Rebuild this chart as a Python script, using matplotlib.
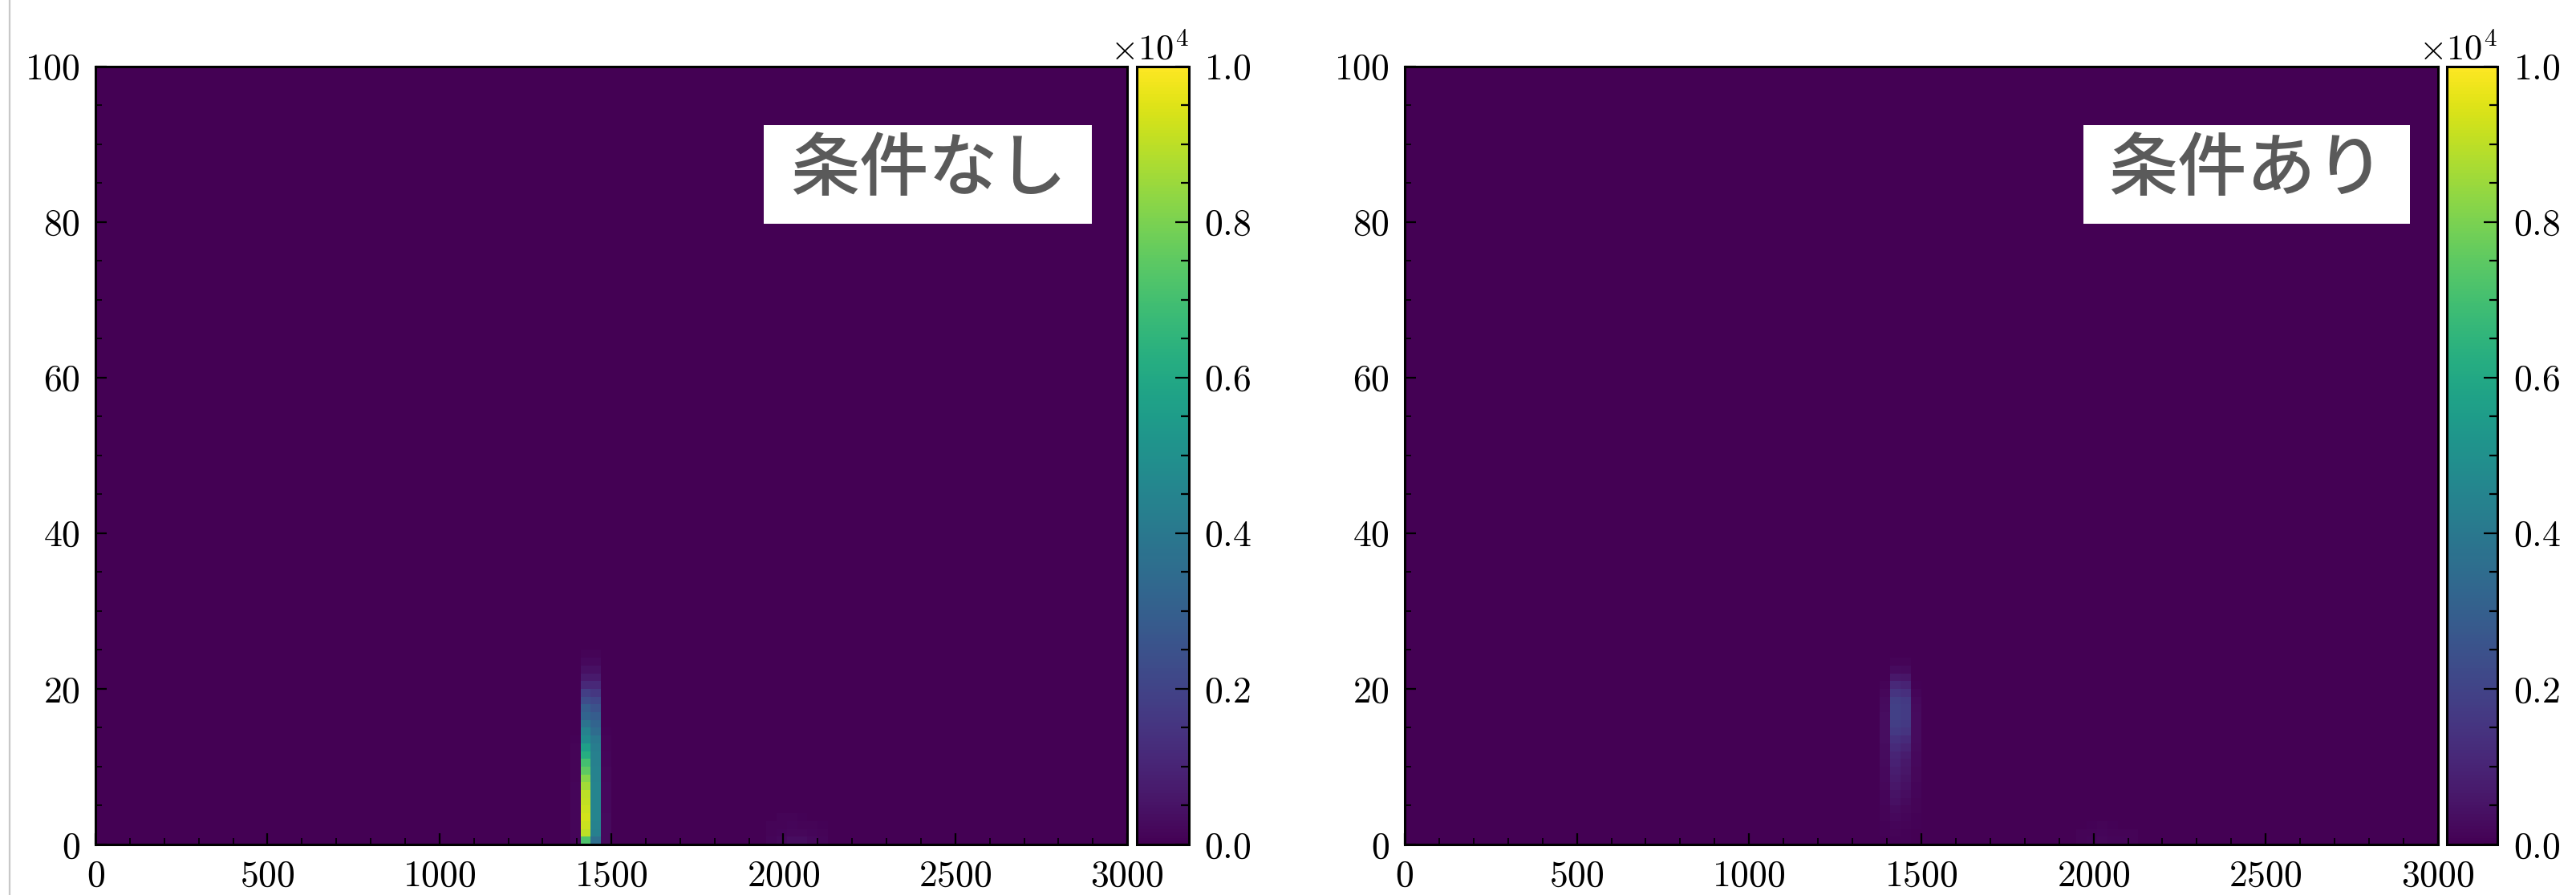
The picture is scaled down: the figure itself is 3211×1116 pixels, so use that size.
import numpy as np
import matplotlib.pyplot as plt
from matplotlib.ticker import AutoMinorLocator, ScalarFormatter
from matplotlib.patches import Rectangle
from matplotlib.lines import Line2D

plt.rcParams['font.family'] = 'serif'
plt.rcParams['font.serif'] = ['cmr10']
plt.rcParams['mathtext.fontset'] = 'cm'
plt.rcParams['axes.formatter.use_mathtext'] = True
plt.rcParams['axes.unicode_minus'] = False

x_range = (0, 3000)
y_range = (0, 100)
n_bins = 100
vmax = 10000

labels = ['条件なし', '条件あり']

# counts per x-bin column, listed from the lowest y bin upward
left_cols = {
    46: [150, 150, 150, 150, 150, 150, 120, 120, 100, 100, 100, 80, 80, 60],
    47: [7200, 9000, 9200, 9300, 9200, 9100, 9000, 8600, 8200, 7500, 7000, 6200,
         5600, 4800, 4400, 3800, 3200, 2900, 2300, 1800, 1100, 700, 400, 200, 100],
    48: [3600, 4300, 4400, 4500, 4500, 4500, 4500, 4500, 4400, 4400, 4300, 4300,
         4200, 4000, 3500, 3200, 2900, 2500, 2100, 1600, 1100, 700, 400, 200, 100],
    49: [250, 250, 250, 240, 230, 220, 200, 200, 180, 160, 150, 130, 110, 90, 70],
    65: [120, 100, 80],
    66: [220, 150, 110, 80],
    67: [330, 180, 120, 80],
    68: [320, 170, 110, 70],
    69: [200, 140, 90],
    70: [130, 100, 70],
}

right_cols = {
    46: [30, 40, 60, 80, 100, 120, 150, 180, 200, 220, 250, 280, 300, 320, 350, 350, 330, 300, 250, 180, 100],
    47: [60, 90, 130, 200, 300, 400, 500, 600, 700, 800, 900, 1000, 1200, 1400,
         1650, 1800, 1900, 1900, 1800, 1500, 1100, 650, 300, 100],
    48: [40, 60, 80, 120, 180, 250, 320, 400, 480, 560, 650, 750, 950, 1200,
         1500, 1650, 1750, 1750, 1650, 1350, 950, 550, 250, 80],
    49: [20, 30, 40, 60, 80, 100, 120, 150, 170, 190, 210, 230, 260, 280, 300, 300, 280, 250, 200, 130, 70],
    65: [100, 80],
    66: [140, 110, 70],
    67: [160, 120, 80],
    68: [150, 110, 70],
    69: [130, 90],
    70: [110, 80],
}

# label boxes in axes fractions: x0, x1, y0, y1
boxes = [(0.648, 0.966, 0.798, 0.925), (0.657, 0.973, 0.798, 0.925)]


def build_hist(cols):
    h = np.zeros((n_bins, n_bins))
    for c, vals in cols.items():
        h[:len(vals), c] = vals
    return h


x_edges = np.linspace(x_range[0], x_range[1], n_bins + 1)
y_edges = np.linspace(y_range[0], y_range[1], n_bins + 1)

fig = plt.figure(figsize=(3211 / 200, 1116 / 200), dpi=200)

ax_pos = [[0.0371, 0.0565, 0.4005, 0.8692], [0.5453, 0.0565, 0.4011, 0.8692]]
cb_pos = [[0.4413, 0.0565, 0.0202, 0.8692], [0.9499, 0.0565, 0.0196, 0.8692]]

for i, cols in enumerate([left_cols, right_cols]):
    ax = fig.add_axes(ax_pos[i])
    cax = fig.add_axes(cb_pos[i])
    H = build_hist(cols)
    mesh = ax.pcolormesh(x_edges, y_edges, H, cmap='viridis', vmin=0, vmax=vmax,
                         shading='flat', rasterized=True)
    ax.set_xlim(x_range)
    ax.set_ylim(y_range)
    ax.set_xticks(np.arange(0, 3001, 500))
    ax.set_yticks(np.arange(0, 101, 20))
    ax.xaxis.set_minor_locator(AutoMinorLocator())
    ax.yaxis.set_minor_locator(AutoMinorLocator())
    ax.tick_params(which='both', direction='in', labelsize=16.5)
    ax.tick_params(which='major', length=5, width=0.8)
    ax.tick_params(which='minor', length=3, width=0.6)
    ax.tick_params(axis='x', pad=7)
    ax.tick_params(axis='y', pad=7)
    for s in ax.spines.values():
        s.set_linewidth(1.1)

    x0, x1, y0, y1 = boxes[i]
    ax.add_patch(Rectangle((x0, y0), x1 - x0, y1 - y0, transform=ax.transAxes,
                           facecolor='white', edgecolor='none', zorder=3))
    ax.text((x0 + x1) / 2, (y0 + y1) / 2 + 0.005, labels[i], transform=ax.transAxes,
            ha='center', va='center', fontsize=31, color='#5a5a5a', fontweight='medium',
            family=['Noto Sans CJK JP', 'DejaVu Sans'], zorder=4)

    fmt = ScalarFormatter(useMathText=True)
    fmt.set_powerlimits((-3, 3))
    cb = fig.colorbar(mesh, cax=cax, format=fmt)
    cb.set_ticks(np.arange(0, 10001, 2000))
    cb.ax.yaxis.set_minor_locator(AutoMinorLocator(4))
    cb.ax.tick_params(which='both', direction='in', labelsize=16.5, pad=7)
    cb.ax.tick_params(which='major', length=6, width=0.8)
    cb.ax.tick_params(which='minor', length=3.6, width=0.8)
    cb.ax.yaxis.get_offset_text().set_fontsize(16)
    cb.outline.set_linewidth(1.1)

fig.add_artist(Line2D([12 / 3211, 12 / 3211], [0, 1], color='#c8c8c8', lw=0.8))

fig.savefig('out.png', dpi=200)
